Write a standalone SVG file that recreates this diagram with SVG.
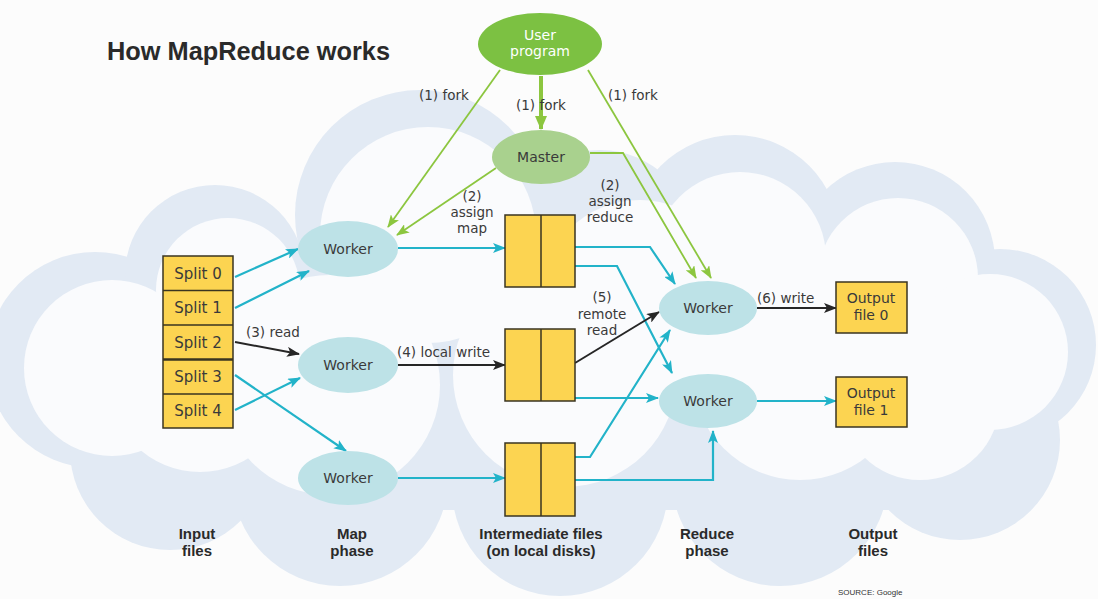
<svg xmlns="http://www.w3.org/2000/svg" width="1098" height="599" viewBox="0 0 1098 599">
<style>
.lbl{font-family:"DejaVu Sans","Liberation Sans",sans-serif;font-size:13.5px;fill:#3a3a3a}
.node{font-family:"DejaVu Sans","Liberation Sans",sans-serif;font-size:14px;fill:#3a3a3a;text-anchor:middle}
.phase{font-family:"Liberation Sans",Arial,sans-serif;font-size:15px;font-weight:bold;fill:#2a2a2a;text-anchor:middle}
.box{fill:#fcd451;stroke:#3a3520;stroke-width:1.5}
.worker{fill:#bde2e7}
.cy{fill:none;stroke:#22b3c9;stroke-width:2.2}
.bk{fill:none;stroke:#262626;stroke-width:2}
.gr{fill:none;stroke:#8cc63f;stroke-width:1.8}
.pale{fill:#e2eaf4}
.wh{fill:#fafbfd}
</style>
<defs>
<marker id="aC" markerUnits="userSpaceOnUse" markerWidth="13" markerHeight="10" refX="12" refY="5" orient="auto"><path d="M0,0 L13,5 L0,10 L3,5 z" fill="#22b3c9"/></marker>
<marker id="aK" markerUnits="userSpaceOnUse" markerWidth="13" markerHeight="10" refX="12" refY="5" orient="auto"><path d="M0,0 L13,5 L0,10 L3,5 z" fill="#262626"/></marker>
<marker id="aG" markerUnits="userSpaceOnUse" markerWidth="13" markerHeight="10" refX="12" refY="5" orient="auto"><path d="M0,0 L13,5 L0,10 L3,5 z" fill="#8cc63f"/></marker>
<marker id="aGL" markerUnits="userSpaceOnUse" markerWidth="14" markerHeight="12" refX="13" refY="6" orient="auto"><path d="M0,0 L14,6 L0,12 z" fill="#8cc63f"/></marker>
</defs>
<rect width="1098" height="599" fill="#fcfcfc"/>
<g id="cloud">
<circle class="pale" cx="95" cy="360" r="108"/>
<circle class="pale" cx="215" cy="275" r="90"/>
<circle class="pale" cx="420" cy="215" r="125"/>
<circle class="pale" cx="600" cy="245" r="95"/>
<circle class="pale" cx="735" cy="240" r="105"/>
<circle class="pale" cx="895" cy="262" r="100"/>
<circle class="pale" cx="1000" cy="345" r="96"/>
<circle class="pale" cx="960" cy="440" r="100"/>
<circle class="pale" cx="780" cy="478" r="108"/>
<circle class="pale" cx="560" cy="488" r="108"/>
<circle class="pale" cx="340" cy="478" r="108"/>
<circle class="pale" cx="170" cy="450" r="100"/>
<rect class="pale" x="150" y="250" width="850" height="260"/>
<circle class="wh" cx="112" cy="368" r="88"/>
<circle class="wh" cx="228" cy="290" r="72"/>
<circle class="wh" cx="428" cy="235" r="108"/>
<circle class="wh" cx="740" cy="258" r="86"/>
<circle class="wh" cx="898" cy="278" r="80"/>
<circle class="wh" cx="990" cy="352" r="78"/>
<circle class="wh" cx="330" cy="385" r="110"/>
<circle class="wh" cx="565" cy="375" r="112"/>
<circle class="wh" cx="800" cy="372" r="108"/>
<circle class="wh" cx="640" cy="300" r="100"/>
<circle class="wh" cx="200" cy="380" r="92"/>
<circle class="wh" cx="920" cy="400" r="80"/>
</g>
<text x="107" y="60" font-family="Liberation Sans, Arial, sans-serif" font-size="25" font-weight="bold" fill="#2a2a2a" textLength="283" lengthAdjust="spacingAndGlyphs">How MapReduce works</text>
<g id="connectors">
<path class="gr" d="M500,70 L388,227" marker-end="url(#aG)"/>
<path d="M541,76 L541,129" fill="none" stroke="#8cc63f" stroke-width="4" marker-end="url(#aGL)"/>
<path class="gr" d="M588,70 L711,278" marker-end="url(#aG)"/>
<path class="gr" d="M496,168 L397,235" marker-end="url(#aG)"/>
<path class="gr" d="M590,153 L623,153 L696,278" marker-end="url(#aG)"/>
<path class="cy" d="M235,277 L298,249" marker-end="url(#aC)"/>
<path class="cy" d="M235,308 L309,271" marker-end="url(#aC)"/>
<path class="cy" d="M235,410 L300,378" marker-end="url(#aC)"/>
<path class="cy" d="M235,375 L346,451" marker-end="url(#aC)"/>
<path class="bk" d="M235,342 L299,354" marker-end="url(#aK)"/>
<path class="cy" d="M398,248 L505,248" marker-end="url(#aC)"/>
<path class="bk" d="M398,365 L505,365" marker-end="url(#aK)"/>
<path class="cy" d="M398,478 L505,478" marker-end="url(#aC)"/>
<path class="cy" d="M575,247 L650,247 L675,284" marker-end="url(#aC)"/>
<path class="cy" d="M575,266 L617,266 L672,373" marker-end="url(#aC)"/>
<path class="bk" d="M575,363 L659,312" marker-end="url(#aK)"/>
<path class="cy" d="M575,398 L658,398" marker-end="url(#aC)"/>
<path class="cy" d="M575,457 L590,457 L670,330" marker-end="url(#aC)"/>
<path class="cy" d="M575,480 L713,480 L713,431" marker-end="url(#aC)"/>
<path class="bk" d="M757,308 L836,308" marker-end="url(#aK)"/>
<path class="cy" d="M757,401 L836,401" marker-end="url(#aC)"/>
</g>
<g id="user-program">
<ellipse cx="540" cy="44" rx="62" ry="31" fill="#7cc142"/>
<text class="node" x="540" y="40" fill="#ffffff" style="fill:#ffffff">User</text>
<text class="node" x="540" y="56" style="fill:#ffffff">program</text>
</g>
<g id="master">
<ellipse cx="541" cy="157" rx="49" ry="27" fill="#a9d18e"/>
<text class="node" x="541" y="162">Master</text>
</g>
<g id="splits">
<rect class="box" x="163" y="256" width="70" height="172"/>
<line x1="163" y1="290.5" x2="233" y2="290.5" stroke="#3a3520" stroke-width="1.5"/>
<line x1="163" y1="325" x2="233" y2="325" stroke="#3a3520" stroke-width="1.5"/>
<line x1="163" y1="359.5" x2="233" y2="359.5" stroke="#3a3520" stroke-width="2.5"/>
<line x1="163" y1="394" x2="233" y2="394" stroke="#3a3520" stroke-width="1.5"/>
<text class="node" x="198" y="279" style="font-size:15px">Split 0</text>
<text class="node" x="198" y="313" style="font-size:15px">Split 1</text>
<text class="node" x="198" y="348" style="font-size:15px">Split 2</text>
<text class="node" x="198" y="382" style="font-size:15px">Split 3</text>
<text class="node" x="198" y="416" style="font-size:15px">Split 4</text>
</g>
<g id="map-worker-1"><ellipse class="worker" cx="348" cy="249" rx="50" ry="28"/><text class="node" x="348" y="254">Worker</text></g>
<g id="map-worker-2"><ellipse class="worker" cx="348" cy="365" rx="50" ry="28"/><text class="node" x="348" y="370">Worker</text></g>
<g id="map-worker-3"><ellipse class="worker" cx="348" cy="478" rx="50" ry="27"/><text class="node" x="348" y="483">Worker</text></g>
<g id="inter-1"><rect class="box" x="505" y="215" width="70" height="72"/><line x1="541" y1="215" x2="541" y2="287" stroke="#3a3520" stroke-width="1.5"/></g>
<g id="inter-2"><rect class="box" x="505" y="329" width="70" height="72"/><line x1="541" y1="329" x2="541" y2="401" stroke="#3a3520" stroke-width="1.5"/></g>
<g id="inter-3"><rect class="box" x="505" y="443" width="70" height="73"/><line x1="541" y1="443" x2="541" y2="516" stroke="#3a3520" stroke-width="1.5"/></g>
<g id="reduce-worker-1"><ellipse class="worker" cx="708" cy="308" rx="49" ry="27"/><text class="node" x="708" y="313">Worker</text></g>
<g id="reduce-worker-2"><ellipse class="worker" cx="708" cy="401" rx="49" ry="27"/><text class="node" x="708" y="406">Worker</text></g>
<g id="output-0"><rect class="box" x="836" y="282" width="71" height="51"/><text class="node" x="871" y="303">Output</text><text class="node" x="871" y="320">file 0</text></g>
<g id="output-1"><rect class="box" x="836" y="377" width="71" height="50"/><text class="node" x="871" y="398">Output</text><text class="node" x="871" y="415">file 1</text></g>
<g id="labels">
<text class="lbl" x="419" y="100">(1) fork</text>
<text class="lbl" x="516" y="110">(1) fork</text>
<text class="lbl" x="608" y="100">(1) fork</text>
<text class="lbl" x="472" y="201" text-anchor="middle">(2)</text>
<text class="lbl" x="472" y="217" text-anchor="middle">assign</text>
<text class="lbl" x="472" y="233" text-anchor="middle">map</text>
<text class="lbl" x="610" y="190" text-anchor="middle">(2)</text>
<text class="lbl" x="610" y="206" text-anchor="middle">assign</text>
<text class="lbl" x="610" y="222" text-anchor="middle">reduce</text>
<text class="lbl" x="602" y="302" text-anchor="middle">(5)</text>
<text class="lbl" x="602" y="319" text-anchor="middle">remote</text>
<text class="lbl" x="602" y="335" text-anchor="middle">read</text>
<text class="lbl" x="246" y="337">(3) read</text>
<text class="lbl" x="397" y="357">(4) local write</text>
<text class="lbl" x="757" y="303">(6) write</text>
</g>
<g id="phases">
<text class="phase" x="197" y="539">Input</text><text class="phase" x="197" y="556">files</text>
<text class="phase" x="352" y="539">Map</text><text class="phase" x="352" y="556">phase</text>
<text class="phase" x="541" y="539">Intermediate files</text><text class="phase" x="541" y="556">(on local disks)</text>
<text class="phase" x="707" y="539">Reduce</text><text class="phase" x="707" y="556">phase</text>
<text class="phase" x="873" y="539">Output</text><text class="phase" x="873" y="556">files</text>
</g>
<text x="838" y="595" font-family="Liberation Sans, Arial, sans-serif" font-size="8" fill="#333">SOURCE: Google</text>
</svg>
